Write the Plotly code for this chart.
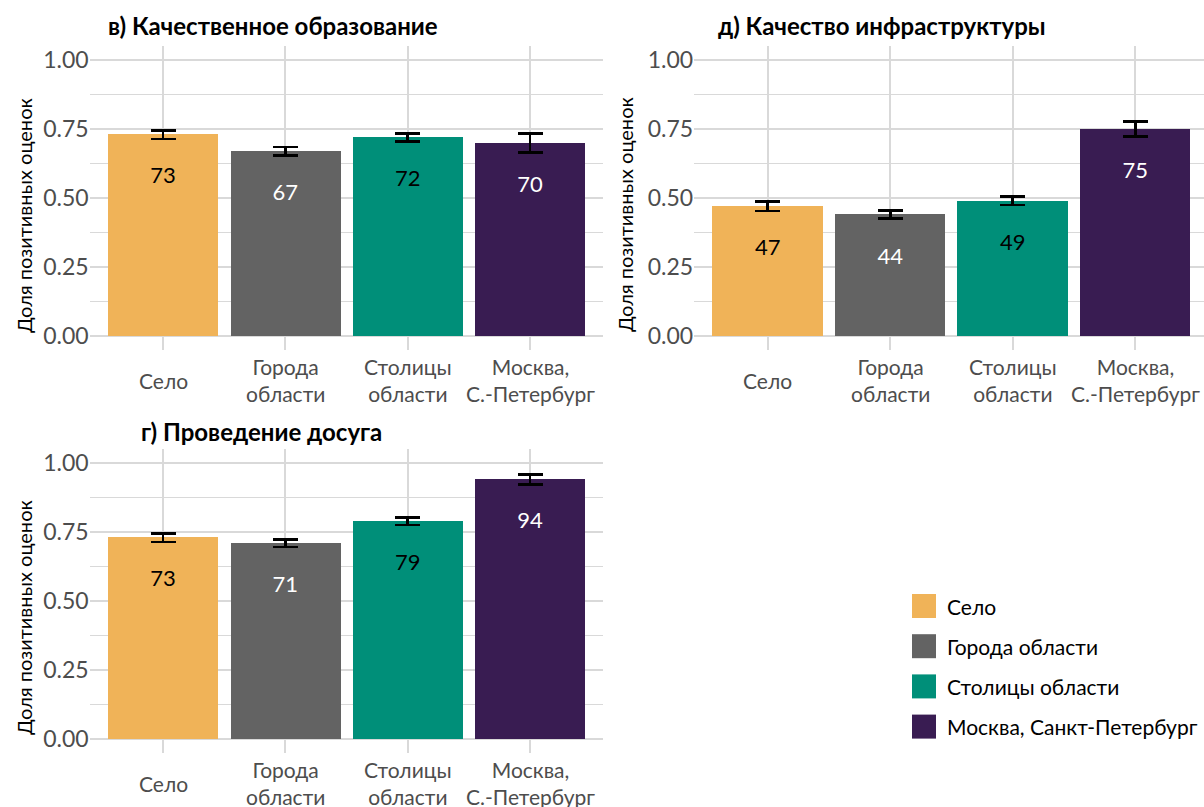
import plotly.graph_objects as go

W, H = 1204, 807

# Settlement types (legend names) and their two-line axis labels
categories = ["Село", "Города области", "Столицы области", "Москва, Санкт-Петербург"]
axis_labels = ["Село", "Города<br>области", "Столицы<br>области", "Москва,<br>С.-Петербург"]
bar_colors = ["#F0B358", "#636363", "#008F79", "#391C52"]
value_label_colors = ["black", "white", "black", "white"]

# Share of positive ratings and half-width of the confidence interval
education = [0.73, 0.67, 0.72, 0.70]
education_ci = [0.016, 0.015, 0.014, 0.034]

infrastructure = [0.47, 0.44, 0.49, 0.75]
infrastructure_ci = [0.017, 0.014, 0.015, 0.028]

leisure = [0.73, 0.71, 0.79, 0.94]
leisure_ci = [0.016, 0.014, 0.014, 0.017]

y_tick_vals = [0.0, 0.25, 0.5, 0.75, 1.0]
y_tick_text = ["0.00", "0.25", "0.50", "0.75", "1.00"]
y_title = "Доля позитивных оценок"

FONT = "Lato"
GRID = "#D9D9D9"
TICK_GREY = "#4D4D4D"


def fx(px):
    return px / W


def fy(px):
    return 1 - px / H


# panel layout in pixels: (left, right, top, bottom), x range end, title centre, y-title centre
panels = [
    dict(n="", values=education, ci=education_ci, title="в) Качественное образование",
         box=(89.6, 603.4, 46.2, 350.0), xmax=3.6, title_xy=(273, 25), ytitle_xy=(24, 216)),
    dict(n="2", values=infrastructure, ci=infrastructure_ci, title="д) Качество инфраструктуры",
         box=(694.2, 1204.0, 46.2, 350.0), xmax=3.561, title_xy=(882, 25), ytitle_xy=(625, 215)),
    dict(n="3", values=leisure, ci=leisure_ci, title="г) Проведение досуга",
         box=(89.6, 603.4, 449.2, 753.1), xmax=3.6, title_xy=(261, 431), ytitle_xy=(24, 618)),
]

fig = go.Figure()
annotations = []
layout_axes = {}

for p in panels:
    xa = "x" + p["n"]
    ya = "y" + p["n"]
    left, right, top, bottom = p["box"]

    fig.add_trace(go.Bar(
        x=categories, y=p["values"], xaxis=xa, yaxis=ya,
        width=0.9,
        marker=dict(color=bar_colors, line=dict(width=0)),
        error_y=dict(type="data", array=p["ci"], symmetric=True,
                     color="black", thickness=2.8, width=12.5),
        showlegend=False, hoverinfo="skip",
    ))
    fig.add_trace(go.Scatter(
        x=categories, y=[v - 0.157 for v in p["values"]], xaxis=xa, yaxis=ya,
        mode="text",
        text=[f"{round(v * 100)}" for v in p["values"]],
        textfont=dict(family=FONT, size=22, color=value_label_colors),
        showlegend=False, hoverinfo="skip",
    ))

    layout_axes["xaxis" + p["n"]] = dict(
        domain=[fx(left), fx(right)], anchor=ya,
        type="category", categoryorder="array", categoryarray=categories,
        range=[-0.6, p["xmax"]],
        showgrid=True, gridcolor=GRID, gridwidth=2,
        showticklabels=False, ticks="", showline=False, zeroline=False,
        fixedrange=True,
    )
    layout_axes["yaxis" + p["n"]] = dict(
        domain=[fy(bottom), fy(top)], anchor=xa,
        range=[-0.05, 1.05],
        tickvals=y_tick_vals, ticktext=y_tick_text,
        tickfont=dict(family=FONT, size=23, color=TICK_GREY),
        showgrid=True, gridcolor=GRID, gridwidth=1.8,
        minor=dict(dtick=0.125, tick0=0, showgrid=True, gridcolor=GRID, gridwidth=1.1),
        ticks="", showline=False, zeroline=False,
        fixedrange=True,
    )

    # category labels under each panel, vertically centred
    label_y = bottom + 30
    for cat, lab in zip(categories, axis_labels):
        annotations.append(dict(
            x=cat, y=fy(label_y), xref=xa, yref="paper",
            text=lab, showarrow=False, xanchor="center", yanchor="middle",
            align="center", font=dict(family=FONT, size=21, color=TICK_GREY),
        ))

    tx, ty = p["title_xy"]
    annotations.append(dict(
        x=fx(tx), y=fy(ty), xref="paper", yref="paper",
        text=f"<b>{p['title']}</b>", showarrow=False,
        xanchor="center", yanchor="middle",
        font=dict(family=FONT, size=24, color="black"),
    ))

    ytx, yty = p["ytitle_xy"]
    annotations.append(dict(
        x=fx(ytx), y=fy(yty), xref="paper", yref="paper",
        text=y_title, textangle=-90, showarrow=False,
        xanchor="center", yanchor="middle",
        font=dict(family=FONT, size=20, color="black"),
    ))

# legend: coloured squares with names
shapes = []
legend_left, legend_top, legend_step, swatch = 912, 594, 40.2, 24
for i, (cat, col) in enumerate(zip(categories, bar_colors)):
    y0 = legend_top + i * legend_step
    shapes.append(dict(
        type="rect", xref="paper", yref="paper",
        x0=fx(legend_left), x1=fx(legend_left + swatch),
        y0=fy(y0 + swatch), y1=fy(y0),
        fillcolor=col, line=dict(width=0),
    ))
    annotations.append(dict(
        x=fx(legend_left + swatch + 9), y=fy(y0 + swatch / 2),
        xref="paper", yref="paper", text=cat, showarrow=False,
        xanchor="left", yanchor="middle",
        font=dict(family=FONT, size=21, color="black"),
    ))

fig.update_layout(
    width=W, height=H,
    margin=dict(l=0, r=0, t=0, b=0),
    paper_bgcolor="white", plot_bgcolor="white",
    font=dict(family=FONT),
    bargap=0,
    annotations=annotations,
    shapes=shapes,
    showlegend=False,
    **layout_axes,
)

fig.write_html("out.html")
